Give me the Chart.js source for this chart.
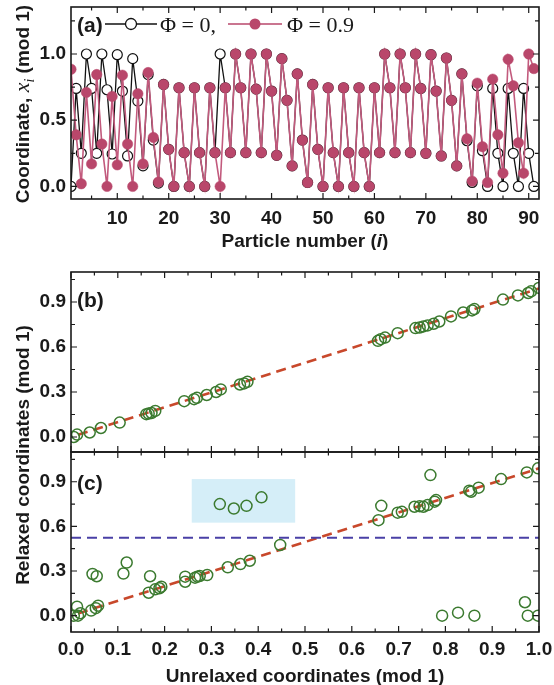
<!DOCTYPE html>
<html>
<head>
<meta charset="utf-8">
<script src="https://cdn.jsdelivr.net/npm/chart.js@4.4.0/dist/chart.umd.min.js"></script>
<style>
  html, body { margin: 0; padding: 0; background: #fff; overflow: hidden; }
  #wrap { position: relative; width: 554px; height: 685px; }
  canvas { position: absolute; left: 0; }
  #chartA { top: 0; }
  #chartBC { top: 250px; }
</style>
</head>
<body>
<div id="wrap">
  <canvas id="chartA" width="554" height="250"></canvas>
  <canvas id="chartBC" width="554" height="435"></canvas>
</div>
<script>
// panel (a): coordinate of each particle (mod 1)
const particleNumber = [
  1,2,3,4,5,6,7,8,9,10,11,12,13,14,15,16,17,18,19,20,21,22,23,24,25,26,27,28,29,30,
  31,32,33,34,35,36,37,38,39,40,41,42,43,44,45,46,47,48,49,50,51,52,53,54,55,56,57,58,59,60,
  61,62,63,64,65,66,67,68,69,70,71,72,73,74,75,76,77,78,79,80,81,82,83,84,85,86,87,88,89,90,91
];
const coordPhi0 = [
  0.0, 0.74, 0.25, 1.0, 0.74, 0.25, 1.0, 0.73, 0.245, 0.995,
  0.72, 0.23, 0.965, 0.645, 0.155, 0.845, 0.35, 0.025, 0.77, 0.28,
  0.0, 0.745, 0.255, 0.0, 0.745, 0.255, 0.0, 0.745, 0.255, 1.0,
  0.745, 0.255, 1.0, 0.745, 0.255, 1.0, 0.735, 0.255, 1.0, 0.72,
  0.235, 0.965, 0.65, 0.155, 0.85, 0.35, 0.03, 0.77, 0.28, 0.0,
  0.745, 0.255, 0.0, 0.745, 0.255, 0.0, 0.745, 0.255, 0.0, 0.745,
  0.255, 1.0, 0.745, 0.255, 1.0, 0.745, 0.255, 1.0, 0.74, 0.25,
  0.995, 0.72, 0.23, 0.97, 0.65, 0.155, 0.85, 0.345, 0.03, 0.76,
  0.27, 0.0, 0.74, 0.25, 0.0, 0.74, 0.25, 0.0, 0.74, 0.25, 0.0
];
const coordPhi09 = [
  0.885, 0.39, 0.02, 0.71, 0.17, 0.845, 0.32, 0.0, 0.68, 0.163,
  0.84, 0.32, 0.0, 0.70, 0.17, 0.86, 0.37, 0.033, 0.77, 0.28,
  0.0, 0.745, 0.255, 0.0, 0.745, 0.255, 0.0, 0.745, 0.255, 0.0,
  0.745, 0.255, 1.0, 0.745, 0.255, 1.0, 0.735, 0.255, 1.0, 0.72,
  0.235, 0.965, 0.65, 0.155, 0.85, 0.35, 0.03, 0.77, 0.28, 0.0,
  0.745, 0.255, 0.0, 0.745, 0.255, 0.0, 0.745, 0.255, 0.0, 0.745,
  0.255, 1.0, 0.745, 0.255, 1.0, 0.745, 0.255, 1.0, 0.74, 0.25,
  0.995, 0.72, 0.23, 0.97, 0.65, 0.155, 0.85, 0.36, 0.04, 0.78,
  0.30, 0.03, 0.81, 0.39, 0.10, 0.96, 0.76, 0.33, 0.10, 1.0, 0.89
];

// panel (b)
const unrelaxedB = [0.006,0.013,0.04,0.064,0.104,0.161,0.166,0.172,0.18,0.242,0.263,0.269,0.29,0.31,0.32,
  0.361,0.37,0.377,0.656,0.662,0.671,0.698,0.736,0.745,0.753,0.762,0.775,0.787,0.812,0.838,0.857,0.862,
  0.923,0.955,0.977,0.983,1.0];
const relaxedB = [0.0,0.016,0.03,0.06,0.096,0.152,0.156,0.16,0.174,0.239,0.252,0.261,0.28,0.30,0.317,
  0.35,0.357,0.368,0.641,0.652,0.663,0.692,0.726,0.73,0.737,0.744,0.755,0.77,0.804,0.83,0.844,0.853,
  0.916,0.944,0.96,0.971,0.994];

// panel (c)
const unrelaxedC = [0.006,0.013,0.015,0.02,0.043,0.046,0.055,0.053,0.058,0.112,0.119,0.169,0.166,0.18,0.189,
  0.193,0.244,0.244,0.265,0.27,0.275,0.291,0.318,0.335,0.348,0.362,0.375,0.382,0.407,0.447,0.657,0.663,
  0.698,0.707,0.734,0.745,0.753,0.762,0.768,0.777,0.78,0.793,0.827,0.851,0.855,0.862,0.871,0.919,0.97,
  0.974,0.976,0.998,0.998];
const relaxedC = [0.0,0.06,0.0,0.016,0.034,0.28,0.265,0.05,0.067,0.283,0.357,0.265,0.154,0.177,0.184,
  0.195,0.262,0.228,0.255,0.262,0.266,0.273,0.75,0.325,0.72,0.347,0.738,0.369,0.795,0.475,0.642,0.738,
  0.692,0.698,0.732,0.736,0.732,0.743,0.945,0.766,0.777,0.0,0.02,0.84,0.833,0.0,0.86,0.918,0.09,
  0.963,0.0,0.0,0.99];

// guide lines and highlighted region
const fitLineX = [0.015, 1.0];
const fitLineY = [0.015, 0.99];
const thresholdY = 0.524;
const highlightX = [0.258, 0.479];
const highlightY = [0.625, 0.918];

// tick positions
const aXMajor = [10, 20, 30, 40, 50, 60, 70, 80, 90];
const aXMinor = [5, 15, 25, 35, 45, 55, 65, 75, 85];
const aYMajor = [0, 0.5, 1.0];
const aYMinor = [0.25, 0.75, 1.25];
const bcXMajor = [0, 0.1, 0.2, 0.3, 0.4, 0.5, 0.6, 0.7, 0.8, 0.9, 1.0];
const bcXMinor = [0.05, 0.15, 0.25, 0.35, 0.45, 0.55, 0.65, 0.75, 0.85, 0.95];
const bcYMajor = [0, 0.3, 0.6, 0.9];
const bcYMinor = [0.15, 0.45, 0.75, 1.05];

const ink = '#1a1a1a';
const pink = '#b9476b';
const green = '#3b7a2f';
const SANS = '"Liberation Sans", Arial, Helvetica, sans-serif';
const SERIF = '"Liberation Serif", "Times New Roman", serif';
const tickFont = { family: SANS, size: 19, weight: 'bold' };

const zip = (xs, ys) => xs.map((x, k) => ({ x: x, y: ys[k] }));

function drawRuns(ctx, runs, cx, cy, angle) {
  ctx.save();
  ctx.translate(cx, cy);
  ctx.rotate(angle || 0);
  ctx.textBaseline = 'alphabetic';
  ctx.fillStyle = ink;
  let total = 0;
  runs.forEach(r => { ctx.font = r.font; r.w = ctx.measureText(r.text).width; total += r.w; });
  let x = -total / 2;
  runs.forEach(r => { ctx.font = r.font; ctx.fillText(r.text, x, r.dy || 0); x += r.w; });
  ctx.restore();
}

// box + inward ticks on all four sides
function framePlugin(yIds, xMajor, xMinor, yMajor, yMinor) {
  return {
    id: 'frame',
    afterDatasetsDraw(chart) {
      const ctx = chart.ctx, a = chart.chartArea, xs = chart.scales.x;
      ctx.save();
      ctx.strokeStyle = ink;
      yIds.forEach(id => {
        const ys = chart.scales[id];
        const top = ys.top, bot = ys.bottom;
        ctx.lineWidth = 1.2;
        ctx.beginPath();
        const xt = (vals, len) => vals.forEach(v => {
          const px = xs.getPixelForValue(v);
          ctx.moveTo(px, bot); ctx.lineTo(px, bot - len);
          ctx.moveTo(px, top); ctx.lineTo(px, top + len);
        });
        const yt = (vals, len) => vals.forEach(v => {
          const py = ys.getPixelForValue(v);
          if (py < top || py > bot) return;
          ctx.moveTo(a.left, py); ctx.lineTo(a.left + len, py);
          ctx.moveTo(a.right, py); ctx.lineTo(a.right - len, py);
        });
        xt(xMajor, 6); xt(xMinor, 3.5); yt(yMajor, 6); yt(yMinor, 4);
        ctx.stroke();
        ctx.lineWidth = 1.6;
        ctx.strokeRect(a.left, top, a.right - a.left, bot - top);
      });
      ctx.restore();
    }
  };
}

function tickScale(values, fmt, opts) {
  return Object.assign({
    type: 'linear',
    grid: { display: false, drawTicks: false },
    border: { display: false },
    afterBuildTicks: s => { s.ticks = values.map(v => ({ value: v })); },
    ticks: { font: tickFont, color: ink, autoSkip: false, maxRotation: 0, callback: fmt }
  }, opts);
}

// ---------- panel (a) ----------
const labelsA = {
  id: 'labelsA',
  afterDraw(chart) {
    const ctx = chart.ctx;
    ctx.save();
    ctx.fillStyle = ink;
    ctx.textBaseline = 'middle';
    ctx.font = 'bold 21px ' + SANS;
    ctx.fillText('(a)', 77, 26);
    // legend
    ctx.strokeStyle = '#111'; ctx.lineWidth = 1.3;
    ctx.beginPath(); ctx.moveTo(105, 24); ctx.lineTo(157, 24); ctx.stroke();
    ctx.beginPath(); ctx.arc(131, 24, 5.5, 0, Math.PI * 2);
    ctx.fillStyle = '#fff'; ctx.fill(); ctx.stroke();
    ctx.strokeStyle = pink; ctx.lineWidth = 1.6;
    ctx.beginPath(); ctx.moveTo(228, 24); ctx.lineTo(282, 24); ctx.stroke();
    ctx.beginPath(); ctx.arc(255, 24, 5.5, 0, Math.PI * 2);
    ctx.fillStyle = pink; ctx.fill();
    ctx.fillStyle = ink;
    ctx.textBaseline = 'alphabetic';
    ctx.font = '22px ' + SERIF;
    ctx.fillText('\u03A6 = 0,', 160, 32);
    ctx.fillText('\u03A6 = 0.9', 287, 32);
    ctx.restore();

    const b = 'bold 19px ' + SANS;
    drawRuns(ctx, [
      { text: 'Particle number (', font: b },
      { text: 'i', font: 'italic bold 19px ' + SANS },
      { text: ')', font: b }
    ], 305, 247);
    drawRuns(ctx, [
      { text: 'Coordinate, ', font: b },
      { text: 'x', font: 'italic 22px ' + SERIF },
      { text: 'i', font: 'italic 14px ' + SERIF, dy: 5 },
      { text: ' (mod 1)', font: b }
    ], 29, 104, -Math.PI / 2);
  }
};

new Chart(document.getElementById('chartA'), {
  type: 'scatter',
  data: {
    datasets: [
      {
        data: zip(particleNumber, coordPhi09), showLine: true, order: 0, clip: 0,
        borderColor: '#c25a7d', borderWidth: 1.6,
        pointRadius: 5.2, pointBackgroundColor: pink, pointBorderColor: pink, pointBorderWidth: 0.5
      },
      {
        data: zip(particleNumber, coordPhi0), showLine: true, order: 1, clip: 0,
        borderColor: '#111', borderWidth: 1.3,
        pointRadius: 5, pointBackgroundColor: '#fff', pointBorderColor: '#111', pointBorderWidth: 1.2
      }
    ]
  },
  options: {
    responsive: false, animation: false,
    layout: { padding: { top: 7, right: 15, left: 0, bottom: 0 } },
    plugins: { legend: { display: false }, tooltip: { enabled: false } },
    scales: {
      x: tickScale(aXMajor, v => String(v), {
        min: 1, max: 92,
        afterFit: s => { s.height = 51; s.paddingLeft = 0; s.paddingRight = 0; }
      }),
      y: tickScale(aYMajor, v => v.toFixed(1), {
        min: -0.095, max: 1.355,
        afterFit: s => { s.width = 71; s.paddingTop = 0; s.paddingBottom = 0; }
      })
    }
  },
  plugins: [labelsA, framePlugin(['y'], aXMajor, aXMinor, aYMajor, aYMinor)]
});
Chart.getChart('chartA').options.scales.x.ticks.padding = 8;
Chart.getChart('chartA').options.scales.y.ticks.padding = 5;
Chart.getChart('chartA').update();

// ---------- panels (b) and (c) ----------
const labelsBC = {
  id: 'labelsBC',
  beforeDatasetsDraw(chart) {
    const ctx = chart.ctx, xs = chart.scales.x, ys = chart.scales.yc;
    const x0 = xs.getPixelForValue(highlightX[0]), x1 = xs.getPixelForValue(highlightX[1]);
    const y0 = ys.getPixelForValue(highlightY[1]), y1 = ys.getPixelForValue(highlightY[0]);
    ctx.save();
    ctx.fillStyle = '#d5eef8';
    ctx.fillRect(x0, y0, x1 - x0, y1 - y0);
    ctx.restore();
  },
  afterDraw(chart) {
    const ctx = chart.ctx;
    ctx.save();
    ctx.fillStyle = ink;
    ctx.textBaseline = 'middle';
    ctx.font = 'bold 21px ' + SANS;
    ctx.fillText('(b)', 77, 51);
    ctx.fillText('(c)', 77, 234);
    ctx.restore();
    const b = 'bold 19px ' + SANS;
    drawRuns(ctx, [{ text: 'Relaxed coordinates (mod 1)', font: b }], 29, 205, -Math.PI / 2);
    drawRuns(ctx, [{ text: 'Unrelaxed coordinates (mod 1)', font: b }], 305, 432);
  }
};

const circleStyle = {
  showLine: false, clip: 0, order: 0,
  pointRadius: 5.5, pointBorderWidth: 1.5, pointBorderColor: green, pointBackgroundColor: 'rgba(255,255,255,0)'
};
const fitStyle = {
  showLine: true, clip: 0, order: 2, pointRadius: 0,
  borderColor: '#c8482b', borderWidth: 2.6, borderDash: [10, 6]
};

new Chart(document.getElementById('chartBC'), {
  type: 'scatter',
  data: {
    datasets: [
      Object.assign({ data: zip(unrelaxedB, relaxedB), yAxisID: 'yb' }, circleStyle),
      Object.assign({ data: zip(unrelaxedC, relaxedC), yAxisID: 'yc' }, circleStyle),
      Object.assign({ data: zip(fitLineX, fitLineY), yAxisID: 'yb' }, fitStyle),
      Object.assign({ data: zip(fitLineX, fitLineY), yAxisID: 'yc' }, fitStyle),
      {
        data: zip([0, 1], [thresholdY, thresholdY]), yAxisID: 'yc',
        showLine: true, clip: 0, order: 1, pointRadius: 0,
        borderColor: '#4a40a6', borderWidth: 2, borderDash: [10, 6]
      }
    ]
  },
  options: {
    responsive: false, animation: false,
    layout: { padding: { top: 22, right: 15, left: 0, bottom: 0 } },
    plugins: { legend: { display: false }, tooltip: { enabled: false } },
    scales: {
      x: tickScale(bcXMajor, v => v.toFixed(1), {
        min: 0, max: 1,
        afterFit: s => { s.height = 53; s.paddingLeft = 0; s.paddingRight = 0; }
      }),
      yc: tickScale(bcYMajor, v => v.toFixed(1), {
        axis: 'y', position: 'left', stack: 'bc', stackWeight: 1, min: -0.11, max: 1.1,
        afterFit: s => { s.width = 71; s.paddingTop = 0; s.paddingBottom = 0; }
      }),
      yb: tickScale(bcYMajor, v => v.toFixed(1), {
        axis: 'y', position: 'left', stack: 'bc', stackWeight: 1, min: -0.1, max: 1.1,
        afterFit: s => { s.width = 71; s.paddingTop = 0; s.paddingBottom = 0; }
      })
    }
  },
  plugins: [labelsBC, framePlugin(['yb', 'yc'], bcXMajor, bcXMinor, bcYMajor, bcYMinor)]
});
const bc = Chart.getChart('chartBC');
bc.options.scales.x.ticks.padding = 6;
bc.options.scales.yb.ticks.padding = 5;
bc.options.scales.yc.ticks.padding = 5;
bc.update();
</script>
</body>
</html>
